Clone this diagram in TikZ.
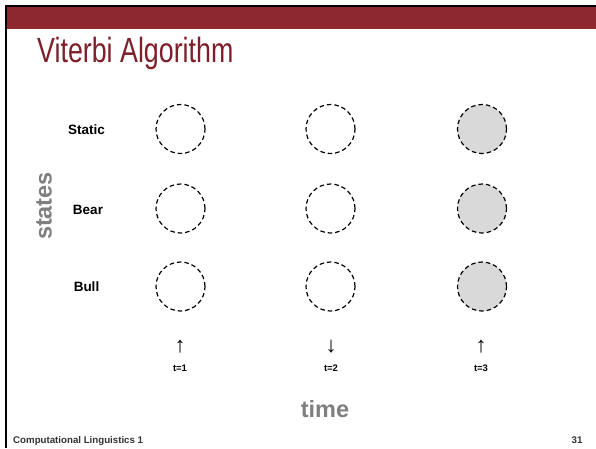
\documentclass[tikz,border=0pt]{standalone}
\usepackage{fontspec}
\setmainfont{Liberation Sans}
\newfontfamily\titlefont[FakeStretch=0.766]{Liberation Sans}
\definecolor{bandred}{HTML}{8C282E}
\definecolor{titlered}{HTML}{7F1F2A}
\definecolor{labgray}{HTML}{7F7F7F}
\definecolor{cellgray}{HTML}{D9D9D9}
\definecolor{footgray}{HTML}{333333}
\tikzset{
  cell/.style={circle, draw=black, line width=1.2pt, dash pattern=on 4.5pt off 3pt, minimum size=49pt, inner sep=0pt},
  done/.style={cell, fill=cellgray},
  rowlab/.style={font=\fontsize{13.5}{15}\selectfont\bfseries, inner sep=0pt},
  tlab/.style={font=\fontsize{9.5}{11}\selectfont\bfseries, inner sep=0pt},
  arrowchar/.style={font=\fontsize{22}{24}\selectfont, inner sep=0pt},
  axislab/.style={font=\fontsize{23.5}{26}\selectfont\bfseries, text=labgray, inner sep=0pt},
}
\begin{document}
\begin{tikzpicture}[x=1pt,y=-1pt]
\useasboundingbox (0,0) rectangle (596,448);
\fill[white] (0,0) rectangle (596,448);
% frame and band
\fill[bandred] (6,7) rectangle (596,29);
\fill[black] (5,5) rectangle (596,7);
\fill[black] (5,5) rectangle (7,448);
% title
\node[anchor=base west, inner sep=0pt, text=titlered, font=\titlefont\fontsize{35}{38}\selectfont] (title) at (37,62) {Viterbi Algorithm};
% row labels
\node[rowlab] (lstatic) at (86.5,130) {Static};
\node[rowlab] (lbear) at (88,210) {Bear};
\node[rowlab] (lbull) at (86.5,287) {Bull};
\node[axislab, rotate=90] (states) at (44,206) {states};
% cells
\node[cell] (s1) at (180.5,129) {};
\node[cell] (b1) at (180.5,208.5) {};
\node[cell] (u1) at (180.5,286.5) {};
\node[cell] (s2) at (330.5,129) {};
\node[cell] (b2) at (330.5,208.5) {};
\node[cell] (u2) at (330.5,286.5) {};
\node[done] (s3) at (482,129) {};
\node[done] (b3) at (482,208.5) {};
\node[done] (u3) at (482,286.5) {};
% observations
\node[arrowchar] (a1) at (180,347) {↑};
\node[arrowchar] (a2) at (331,347) {↓};
\node[arrowchar] (a3) at (481,347) {↑};
\node[tlab] (t1) at (180,368.5) {t=1};
\node[tlab] (t2) at (331,368.5) {t=2};
\node[tlab] (t3) at (481,368.5) {t=3};
\node[axislab] (time) at (325,409) {time};
% footer
\node[anchor=base west, inner sep=0pt, text=footgray, font=\fontsize{9.7}{11}\selectfont\bfseries] (foot) at (13,443) {Computational Linguistics 1};
\node[anchor=base, inner sep=0pt, text=footgray, font=\fontsize{9.7}{11}\selectfont\bfseries] (page) at (577,443) {31};
\end{tikzpicture}
\end{document}
